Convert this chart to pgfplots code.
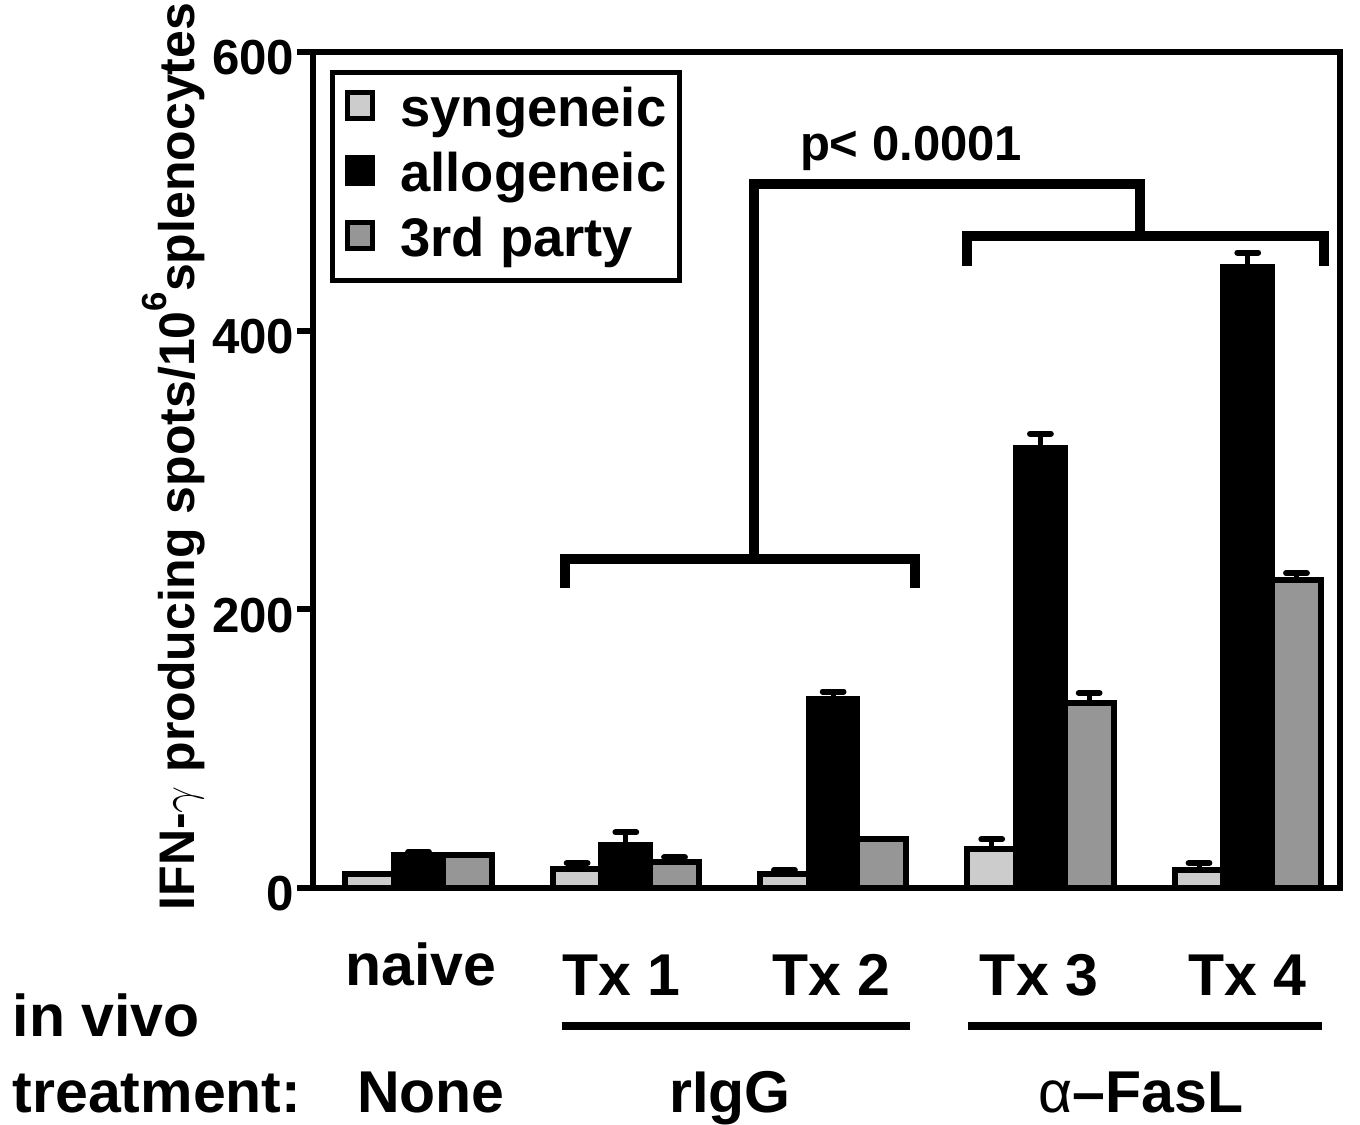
\documentclass[border=0pt]{standalone}
\usepackage{fontspec}
\setmainfont{Liberation Sans}
\usepackage{pgfplots}
\pgfplotsset{compat=1.18}
\definecolor{synfill}{HTML}{CCCCCC}
\definecolor{thirdfill}{HTML}{969696}
\newcommand{\fs}[1]{\fontsize{#1}{#1}\selectfont\bfseries}

\pgfplotsset{
  sqleg/.style={legend image code/.code={%
    \draw[line width=1.25pt,draw=black,fill=#1] (0.625pt,-1.9pt) rectangle (6.875pt,4.6pt);
    \path (13pt,0pt);}},
  errs/.style={error bars/.cd, y dir=plus, y explicit, error mark=-,
    error bar style={line width=1.25pt,black},
    error mark options={rotate=90,line width=1.5pt,black,mark size=2.6pt,line cap=round}},
}

\begin{document}
\begin{tikzpicture}
\begin{axis}[
  scale only axis, width=256.75pt, height=209pt,
  xmin=-0.509, xmax=4.445, ymin=0, ymax=600,
  ybar, bar width=0.235,
  xtick=\empty, ytick={0,200,400,600},
  ytick pos=left, tick align=outside,
  major tick length=4pt,
  tick style={line width=1.5pt,black},
  axis line style={line width=1.5pt},
  yticklabel style={font=\fs{12.3},anchor=east,inner sep=0pt,xshift=-0.5pt,yshift=-1.5pt},
  /pgf/number format/assume math mode=true,
  ylabel={IFN-$\gamma$ producing spots/10\raisebox{7pt}{\fs{8.7}6}splenocytes},
  ylabel style={font=\fs{12.5},inner sep=0pt,at={(axis description cs:-0.115,0.516)},anchor=base},
  clip=false,
  legend style={at={(axis description cs:0,1)},anchor=north west,
    xshift=4.25pt,yshift=-4.5pt,draw=black,line width=1.25pt,
    inner xsep=3.2pt,inner ysep=3.6pt,row sep=4.05pt,font=\fs{13.6},
    nodes={inner sep=0pt,text height=10pt,text depth=2.2pt}},
  legend cell align=left,
]
\addplot[fill=synfill,draw=black,line width=1.5pt,bar shift=-0.235,sqleg=synfill,errs]
  coordinates {(0,10) +- (0,0) (1,14) +- (0,4) (2,10) +- (0,3) (3,28) +- (0,7) (4,13) +- (0,5)};
\addlegendentry{syngeneic}
\addplot[fill=black,draw=black,line width=1.5pt,bar shift=0,sqleg=black,errs]
  coordinates {(0,24) +- (0,2) (1,31) +- (0,9) (2,136) +- (0,5) (3,316) +- (0,10) (4,446) +- (0,10)};
\addlegendentry{allogeneic}
\addplot[fill=thirdfill,draw=black,line width=1.5pt,bar shift=0.235,sqleg=thirdfill,errs]
  coordinates {(0,24) +- (0,0) (1,19) +- (0,3) (2,35) +- (0,0) (3,133) +- (0,7) (4,221) +- (0,5)};
\addlegendentry{3rd party}

% significance brackets
\draw[line width=2.4pt] (axis cs:0.707,215.3) -- (axis cs:0.707,236.1) -- (axis cs:2.395,236.1) -- (axis cs:2.395,215.3);
\draw[line width=2.4pt] (axis cs:1.619,236.1) -- (axis cs:1.619,505.3) -- (axis cs:3.480,505.3) -- (axis cs:3.480,468);
\draw[line width=2.4pt] (axis cs:2.646,446.4) -- (axis cs:2.646,468) -- (axis cs:4.368,468) -- (axis cs:4.368,446.4);
\node[anchor=base,inner sep=0pt,font=\fs{12.25}] at (axis cs:2.376,522.5) {p< 0.0001};

% group labels below the axis
\begin{scope}[every node/.style={inner sep=0pt,font=\fs{14.75}}]
\node[anchor=base] at (axis cs:0.012,-70.3) {naive};
\node[anchor=base] at (axis cs:0.977,-76.8) {Tx 1};
\node[anchor=base] at (axis cs:1.99,-76.8) {Tx 2};
\node[anchor=base] at (axis cs:2.993,-76.8) {Tx 3};
\node[anchor=base] at (axis cs:3.997,-76.8) {Tx 4};
\node[anchor=base west] at (axis cs:-1.961,-106.9) {in vivo};
\node[anchor=base west] at (axis cs:-1.961,-160.8) {treatment:};
\node[anchor=base] at (axis cs:0.06,-160.8) {None};
\node[anchor=base] at (axis cs:1.503,-160.8) {rIgG};
\node[anchor=base] at (axis cs:3.485,-160.8) {{\mdseries α}–FasL};
\end{scope}
\draw[line width=2pt] (axis cs:0.69,-99) -- (axis cs:2.37,-99);
\draw[line width=2pt] (axis cs:2.65,-99) -- (axis cs:4.36,-99);
\end{axis}
\path[use as bounding box] ([shift={(-78.25pt,-58.75pt)}]current axis.south west)
  rectangle ([shift={(261.75pt,222pt)}]current axis.south west);
\end{tikzpicture}
\end{document}
